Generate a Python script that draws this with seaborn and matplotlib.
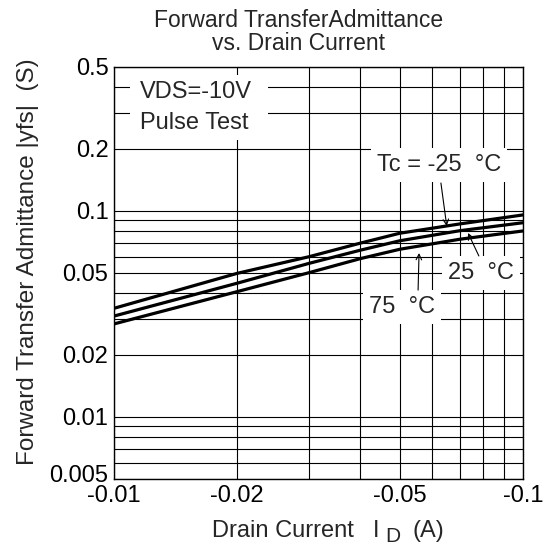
import numpy as np
import pandas as pd
import matplotlib
matplotlib.use("Agg")
import matplotlib.pyplot as plt
import matplotlib.transforms as mtransforms
from matplotlib.patches import Rectangle
from matplotlib.ticker import FixedLocator, FixedFormatter, LogLocator, NullFormatter
import seaborn as sns

# Values
drain_current = [-0.01, -0.02, -0.03, -0.04, -0.05, -0.07, -0.1]   # A
yfs_m25 = [0.0337, 0.0498, 0.0600, 0.0698, 0.0780, 0.0865, 0.0957]  # S, Tc=-25
yfs_25 = [0.0309, 0.0446, 0.0557, 0.0645, 0.0717, 0.0802, 0.0877]   # S, Tc=25
yfs_75 = [0.0283, 0.0406, 0.0502, 0.0587, 0.0652, 0.0729, 0.0800]   # S, Tc=75
temps = ["-25", "25", "75"]

x_ticks = [-0.01, -0.02, -0.05, -0.1]
x_ticklabels = ["-0.01", "-0.02", "-0.05", "-0.1"]
y_ticks = [0.005, 0.01, 0.02, 0.05, 0.1, 0.2, 0.5]
y_ticklabels = ["0.005", "0.01", "0.02", "0.05", "0.1", "0.2", "0.5"]

sns.set_style("white")
plt.rcParams['font.family'] = ['Liberation Sans', 'DejaVu Sans']

df = pd.DataFrame({
    "id": drain_current * 3,
    "yfs": yfs_m25 + yfs_25 + yfs_75,
    "tc": [t for t in temps for _ in drain_current],
})
# log axis runs on the magnitude, labels keep the minus sign
df["id_abs"] = df["id"].abs()

fig = plt.figure(figsize=(5.49, 5.46), dpi=100)
ax = fig.add_axes([0.2077, 0.1227, 0.7449, 0.7546])

sns.lineplot(data=df, x="id_abs", y="yfs", hue="tc", palette=["black"] * 3,
             linewidth=2.3, legend=False, ax=ax, zorder=3)

ax.set_xscale("log")
ax.set_yscale("log")
ax.set_xlim(0.01, 0.1)
ax.set_ylim(0.005, 0.5)

ax.xaxis.set_major_locator(FixedLocator(np.abs(x_ticks)))
ax.xaxis.set_major_formatter(FixedFormatter(x_ticklabels))
ax.yaxis.set_major_locator(FixedLocator(y_ticks))
ax.yaxis.set_major_formatter(FixedFormatter(y_ticklabels))
ax.xaxis.set_minor_locator(LogLocator(base=10, subs=range(2, 10)))
ax.yaxis.set_minor_locator(LogLocator(base=10, subs=range(2, 10)))
ax.xaxis.set_minor_formatter(NullFormatter())
ax.yaxis.set_minor_formatter(NullFormatter())
ax.tick_params(which="both", length=0, labelsize=17, pad=4, colors="black")
ax.grid(True, which="both", color="black", linewidth=0.8)
ax.set_xlabel("")
ax.set_ylabel("")
for s in ax.spines.values():
    s.set_color("black")
    s.set_linewidth(1.0)

# lift the bottom y label a little so it clears "-0.01"
fig.canvas.draw()
lbl = ax.get_yticklabels()[0]
lbl.set_transform(lbl.get_transform() +
                  mtransforms.ScaledTranslation(0, 6 / 100, fig.dpi_scale_trans))

# condition box, top left
ax.add_patch(Rectangle((0.039, 0.823), 0.3375, 0.1576, transform=ax.transAxes,
                       facecolor="white", edgecolor="none", zorder=1))
ax.text(0.0636, 0.9393, "VDS=-10V", transform=ax.transAxes, fontsize=17,
        ha="left", va="center", zorder=4)
ax.text(0.0636, 0.864, "Pulse Test", transform=ax.transAxes, fontsize=17,
        ha="left", va="center", zorder=4)

# curve labels with arrows
box = dict(boxstyle="square,pad=0.25", facecolor="white", edgecolor="none")
arrow = dict(arrowstyle="->", color="black", lw=0.8, shrinkA=0, shrinkB=0)
ax.text(0.0623, 0.167, "Tc = -25  °C", fontsize=17, ha="center", va="center", bbox=box, zorder=4)
ax.annotate("", xy=(0.0651, 0.0845), xytext=(0.0630, 0.1367), arrowprops=arrow, zorder=4)
ax.text(0.0789, 0.050, "25  °C", fontsize=17, ha="center", va="center", bbox=box, zorder=4)
ax.annotate("", xy=(0.0734, 0.0782), xytext=(0.0780, 0.0605), arrowprops=arrow, zorder=4)
ax.text(0.0506, 0.0342, "75  °C", fontsize=17, ha="center", va="center", bbox=box, zorder=4)
ax.annotate("", xy=(0.0557, 0.0625), xytext=(0.0554, 0.0413), arrowprops=arrow, zorder=4)

# title and axis labels
fig.text(299 / 549, 1 - 32 / 546, "Forward TransferAdmittance\nvs. Drain Current",
         ha="center", va="center", fontsize=16.5, linespacing=1.0)
fig.text(28 / 549, 0.521, "Forward Transfer Admittance |yfs|  (S)", rotation=90,
         ha="center", va="center", fontsize=17.5)
fig.text(211.7 / 549, 1 - 537 / 546, "Drain Current", ha="left", va="baseline", fontsize=17)
fig.text(373 / 549, 1 - 537 / 546, "I", ha="left", va="baseline", fontsize=17)
fig.text(385 / 549, 1 - 542 / 546, "D", ha="left", va="baseline", fontsize=15)
fig.text(413 / 549, 1 - 537 / 546, "(A)", ha="left", va="baseline", fontsize=17)

plt.savefig("out.png", dpi=100)
